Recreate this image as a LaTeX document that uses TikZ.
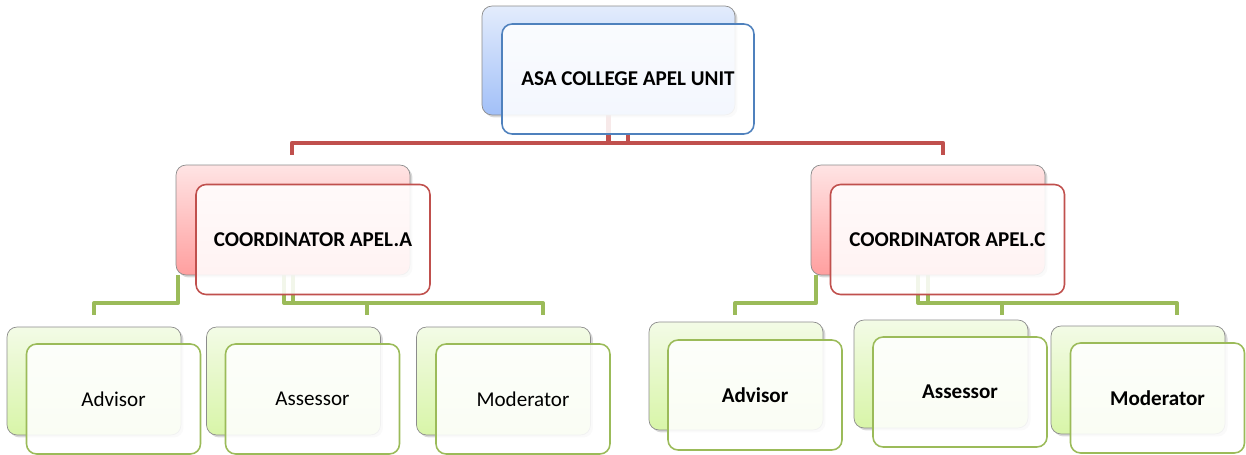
\documentclass[tikz,border=0pt]{standalone}
\usepackage{fontspec}
\setmainfont{Carlito}
\usepackage{tikz}
\usetikzlibrary{positioning, calc, shadows, backgrounds}
\definecolor{unitblue}{HTML}{4F81BD}
\definecolor{unitbluetop}{HTML}{E3ECFC}
\definecolor{unitbluebot}{HTML}{A2C0F8}
\definecolor{coordred}{HTML}{C0504D}
\definecolor{coordredtop}{HTML}{FFE4E4}
\definecolor{coordredbot}{HTML}{FF9F9F}
\definecolor{rolegreen}{HTML}{9BBB59}
\definecolor{rolegreentop}{HTML}{F3FBE6}
\definecolor{rolegreenbot}{HTML}{D8F5A8}
\tikzset{
  backcard/.style={rectangle, rounded corners=0.2cm, draw=gray!90, thin,
    drop shadow={shadow xshift=0.05cm, shadow yshift=-0.05cm, opacity=0.3}},
  frontcard/.style={rectangle, rounded corners=0.2cm, fill=white,
    fill opacity=0.88, text opacity=1, line width=0.9pt,
    font=\fontsize{12}{14}\selectfont\bfseries},
  blueback/.style={backcard, top color=unitbluetop, bottom color=unitbluebot,
    minimum width=5.06cm, minimum height=2.18cm},
  bluefront/.style={frontcard, draw=unitblue,
    minimum width=5.04cm, minimum height=2.2cm},
  redback/.style={backcard, top color=coordredtop, bottom color=coordredbot,
    minimum width=4.68cm, minimum height=2.2cm},
  redfront/.style={frontcard, draw=coordred,
    minimum width=4.68cm, minimum height=2.2cm},
  greenback/.style={backcard, top color=rolegreentop, bottom color=rolegreenbot,
    minimum width=3.48cm, minimum height=2.16cm},
  greenfront/.style={frontcard, draw=rolegreen,
    minimum width=3.48cm, minimum height=2.2cm},
  plaintext/.style={font=\fontsize{12}{14}\selectfont},
  redline/.style={draw=coordred, line width=2.5pt, line join=round},
  greenline/.style={draw=rolegreen, line width=2.3pt, line join=round}
}

\begin{document}
\begin{tikzpicture}[x=0.02cm, y=-0.02cm]
  \useasboundingbox (0,0) rectangle (1246,455);
  % top unit
  \node[blueback] (unitback) at (608.5,60.5) {};
  \node[bluefront] (unit) at ($(unitback)+(19.5,18.5)$) {ASA COLLEGE APEL UNIT};
  % coordinators
  \node[redback] (coordAback) at (293,220) {};
  \node[redfront] (coordA) at ($(coordAback)+(20,19.5)$) {COORDINATOR APEL.A};
  \node[redback] (coordCback) at (928,220) {};
  \node[redfront] (coordC) at ($(coordCback)+(19.5,19.5)$) {COORDINATOR APEL.C};
  % roles under A
  \node[greenback] (advAback) at (94,381) {};
  \node[greenfront, plaintext] (advA) at ($(advAback)+(19.5,18)$) {Advisor};
  \node[greenback] (assAback) at (293.5,381) {};
  \node[greenfront, plaintext] (assA) at ($(assAback)+(19,18)$) {Assessor};
  \node[greenback] (modAback) at (503.5,381) {};
  \node[greenfront, plaintext] (modA) at ($(modAback)+(19.5,18)$) {Moderator};
  % roles under C
  \node[greenback] (advCback) at (736,376) {};
  \node[greenfront] (advC) at ($(advCback)+(19,19)$) {Advisor};
  \node[greenback] (assCback) at (941,374) {};
  \node[greenfront] (assC) at ($(assCback)+(19,18)$) {Assessor};
  \node[greenback] (modCback) at (1138,380) {};
  \node[greenfront] (modC) at ($(modCback)+(19.5,18)$) {Moderator};
  % free ends of the connectors
  \coordinate (redA) at (292,155);
  \coordinate (redC) at (943,155);
  \coordinate (advAtick) at (94,315);
  \coordinate (assAtick) at (367,315);
  \coordinate (modAtick) at (543,315);
  \coordinate (advCtick) at (735,315);
  \coordinate (assCtick) at (1002,315);
  \coordinate (modCtick) at (1177,315);
  \begin{pgfonlayer}{background}
    \draw[redline] (unitback) -- ++(0,82.5) -| (redC);
    \draw[redline] (unit) -- ++(0,64) -| (redA);
    \draw[greenline] ($(coordAback.south west)+(2,0)$) -- ++(0,28) -| (advAtick);
    \draw[greenline] ($(coordAback)+(-9,0)$) -- ++(0,83) -| (modAtick);
    \draw[greenline] (coordAback) -- ++(0,83) -| (assAtick);
    \draw[greenline] ($(coordCback.south west)+(5,0)$) -- ++(0,28) -| (advCtick);
    \draw[greenline] ($(coordCback)+(-10,0)$) -- ++(0,83) -| (modCtick);
    \draw[greenline] (coordCback) -- ++(0,83) -| (assCtick);
  \end{pgfonlayer}
\end{tikzpicture}
\end{document}
